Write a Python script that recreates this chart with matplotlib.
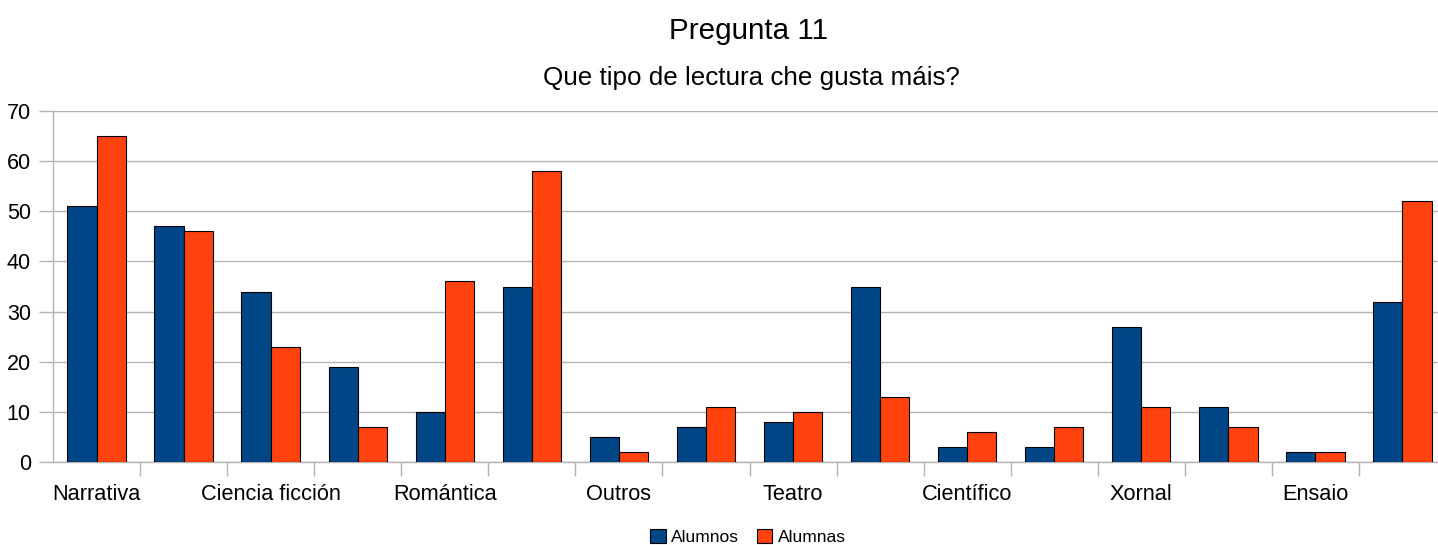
import numpy as np
import matplotlib.pyplot as plt

# data
categorias = ['Narrativa', '', 'Ciencia ficción', '', 'Romántica', '', 'Outros', '',
              'Teatro', '', 'Científico', '', 'Xornal', '', 'Ensaio', '']
alumnos = [51, 47, 34, 19, 10, 35, 5, 7, 8, 35, 3, 3, 27, 11, 2, 32]
alumnas = [65, 46, 23, 7, 36, 58, 2, 11, 10, 13, 6, 7, 11, 7, 2, 52]

plt.rcParams['font.family'] = ['Liberation Sans', 'DejaVu Sans']

fig = plt.figure(figsize=(14.38, 5.45), dpi=100)
# plot area: x 53..1446 px, y 111..462 px
ax = fig.add_axes([53/1438, (545-462)/545, (1446-53)/1438, (462-111)/545])

x = np.arange(len(categorias))
w = 0.335
ax.bar(x - w/2, alumnos, w, color='#004586', edgecolor='black', linewidth=0.8,
       label='Alumnos', zorder=3)
ax.bar(x + w/2, alumnas, w, color='#ff420e', edgecolor='black', linewidth=0.8,
       label='Alumnas', zorder=3)

ax.set_xlim(-0.5, len(categorias) - 0.5)
ax.set_ylim(0, 70)
ax.set_yticks(range(0, 71, 10))
ax.grid(axis='y', color='#b3b3b3', linewidth=1, zorder=0)

ax.set_xticks(x)
ax.set_xticklabels(categorias, fontsize=15.7)
ax.tick_params(axis='x', length=0, pad=16)
ax.set_xticks(np.arange(0.5, len(categorias) - 0.5, 1), minor=True)
ax.tick_params(axis='x', which='minor', length=10, color='#b3b3b3', width=1)
ax.tick_params(axis='y', labelsize=15.5, length=10, color='#b3b3b3', width=1, pad=6)

for s in ['top', 'right']:
    ax.spines[s].set_visible(False)
for s in ['left', 'bottom']:
    ax.spines[s].set_color('#b3b3b3')
    ax.spines[s].set_linewidth(1)

fig.text(749/1438, 1 - 31/545, 'Pregunta 11', ha='center', va='center', fontsize=21.3)
fig.text(751/1438, 1 - 78/545, 'Que tipo de lectura che gusta máis?', ha='center',
         va='center', fontsize=18.7)

fig.legend(loc='center', bbox_to_anchor=(748/1438, 1 - 537/545), ncol=2,
           frameon=False, fontsize=12.5, handlelength=0.9, handleheight=0.9,
           handletextpad=0.3, columnspacing=1.0, borderaxespad=0)

fig.savefig('out.png', dpi=100)
